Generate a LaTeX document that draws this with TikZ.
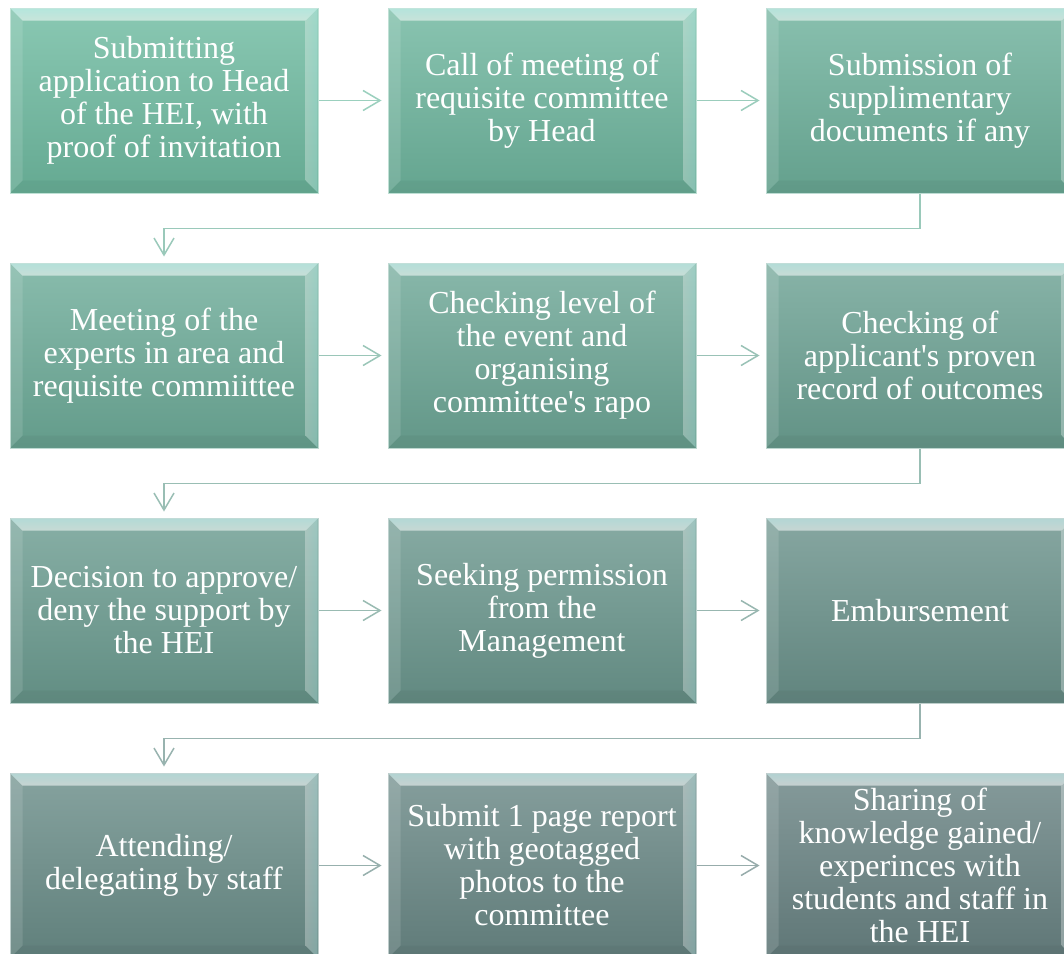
\documentclass[tikz,border=0pt]{standalone}
\usepackage{fontspec}
\setmainfont{Liberation Serif}
\usetikzlibrary{arrows.meta,calc}
\definecolor{cS}{HTML}{70BCA2}
\definecolor{cE}{HTML}{6A8484}
\colorlet{b0}{cS}
\colorlet{b1}{cE!9!cS}
\colorlet{b2}{cE!18!cS}
\colorlet{b3}{cE!27!cS}
\colorlet{b4}{cE!36!cS}
\colorlet{b5}{cE!45!cS}
\colorlet{b6}{cE!55!cS}
\colorlet{b7}{cE!64!cS}
\colorlet{b8}{cE!73!cS}
\colorlet{b9}{cE!82!cS}
\colorlet{b10}{cE!91!cS}
\colorlet{b11}{cE}
\tikzset{
  box/.style={rectangle, minimum width=308pt, minimum height=185pt, inner sep=0pt,
    top color=#1!82!white, bottom color=#1!90!black, draw=#1!45!white, line width=1pt,
    text=white, align=center, font=\fontsize{32pt}{33pt}\selectfont},
  conn/.style={draw=#1!70!white, line width=1.5pt,
    -{Straight Barb[length=17pt,width=20pt,line width=1.5pt]}, shorten >=6pt},
}
\begin{document}
\begin{tikzpicture}[x=1pt,y=-1pt]
\useasboundingbox (0,0) rectangle (1064,953);
\clip (0,0) rectangle (1064,953);
\fill[white] (0,0) rectangle (1064,953);
% row 1
\node[box=b0] (n1) at (164,100.5) {Submitting\\application to Head\\of the HEI, with\\proof of invitation};
\node[box=b1] (n2) at (542,100.5) {Call of meeting of\\requisite committee\\by Head};
\node[box=b2] (n3) at (920,100.5) {Submission of\\supplimentary\\documents if any};
% row 2
\node[box=b3] (n4) at (164,355.5) {Meeting of the\\experts in area and\\requisite commiittee};
\node[box=b4] (n5) at (542,355.5) {Checking level of\\the event and\\organising\\committee\textquotesingle s rapo};
\node[box=b5] (n6) at (920,355.5) {Checking of\\applicant\textquotesingle s proven\\record of outcomes};
% row 3
\node[box=b6] (n7) at (164,610.5) {Decision to approve/\\deny the support by\\the HEI};
\node[box=b7] (n8) at (542,610.5) {Seeking permission\\from the\\Management};
\node[box=b8] (n9) at (920,610.5) {Embursement};
% row 4
\node[box=b9] (n10) at (164,865.5) {Attending/\\delegating by staff};
\node[box=b10] (n11) at (542,865.5) {Submit 1 page report\\with geotagged\\photos to the\\committee};
\node[box=b11] (n12) at (920,865.5) {Sharing of\\knowledge gained/\\experinces with\\students and staff in\\the HEI};
% bevels
\foreach \n in {n1,n2,n3,n4,n5,n6,n7,n8,n9,n10,n11,n12}{
  \shade[top color=white!85!cyan, bottom color=white, opacity=0.55]
    ([shift={(1,1)}]\n.north west) -- ([shift={(-1,1)}]\n.north east) -- ([shift={(-13,13)}]\n.north east) -- ([shift={(13,13)}]\n.north west) -- cycle;
  \fill[white, opacity=0.12]
    ([shift={(1,1)}]\n.north west) -- ([shift={(13,13)}]\n.north west) -- ([shift={(13,-13)}]\n.south west) -- ([shift={(1,-1)}]\n.south west) -- cycle;
  \shade[left color=white, right color=white!80!cyan, opacity=0.3]
    ([shift={(-1,1)}]\n.north east) -- ([shift={(-13,13)}]\n.north east) -- ([shift={(-13,-13)}]\n.south east) -- ([shift={(-1,-1)}]\n.south east) -- cycle;
  \fill[black, opacity=0.04]
    ([shift={(1,-1)}]\n.south west) -- ([shift={(13,-13)}]\n.south west) -- ([shift={(-13,-13)}]\n.south east) -- ([shift={(-1,-1)}]\n.south east) -- cycle;
}
% connectors
\draw[conn=b0] (n1.east) -- (n2.west);
\draw[conn=b1] (n2.east) -- (n3.west);
\draw[conn=b2] (n3.south) -- ++(0,35) -| (n4.north);
\draw[conn=b3] (n4.east) -- (n5.west);
\draw[conn=b4] (n5.east) -- (n6.west);
\draw[conn=b5] (n6.south) -- ++(0,35) -| (n7.north);
\draw[conn=b6] (n7.east) -- (n8.west);
\draw[conn=b7] (n8.east) -- (n9.west);
\draw[conn=b8] (n9.south) -- ++(0,35) -| (n10.north);
\draw[conn=b9] (n10.east) -- (n11.west);
\draw[conn=b10] (n11.east) -- (n12.west);
\end{tikzpicture}
\end{document}
